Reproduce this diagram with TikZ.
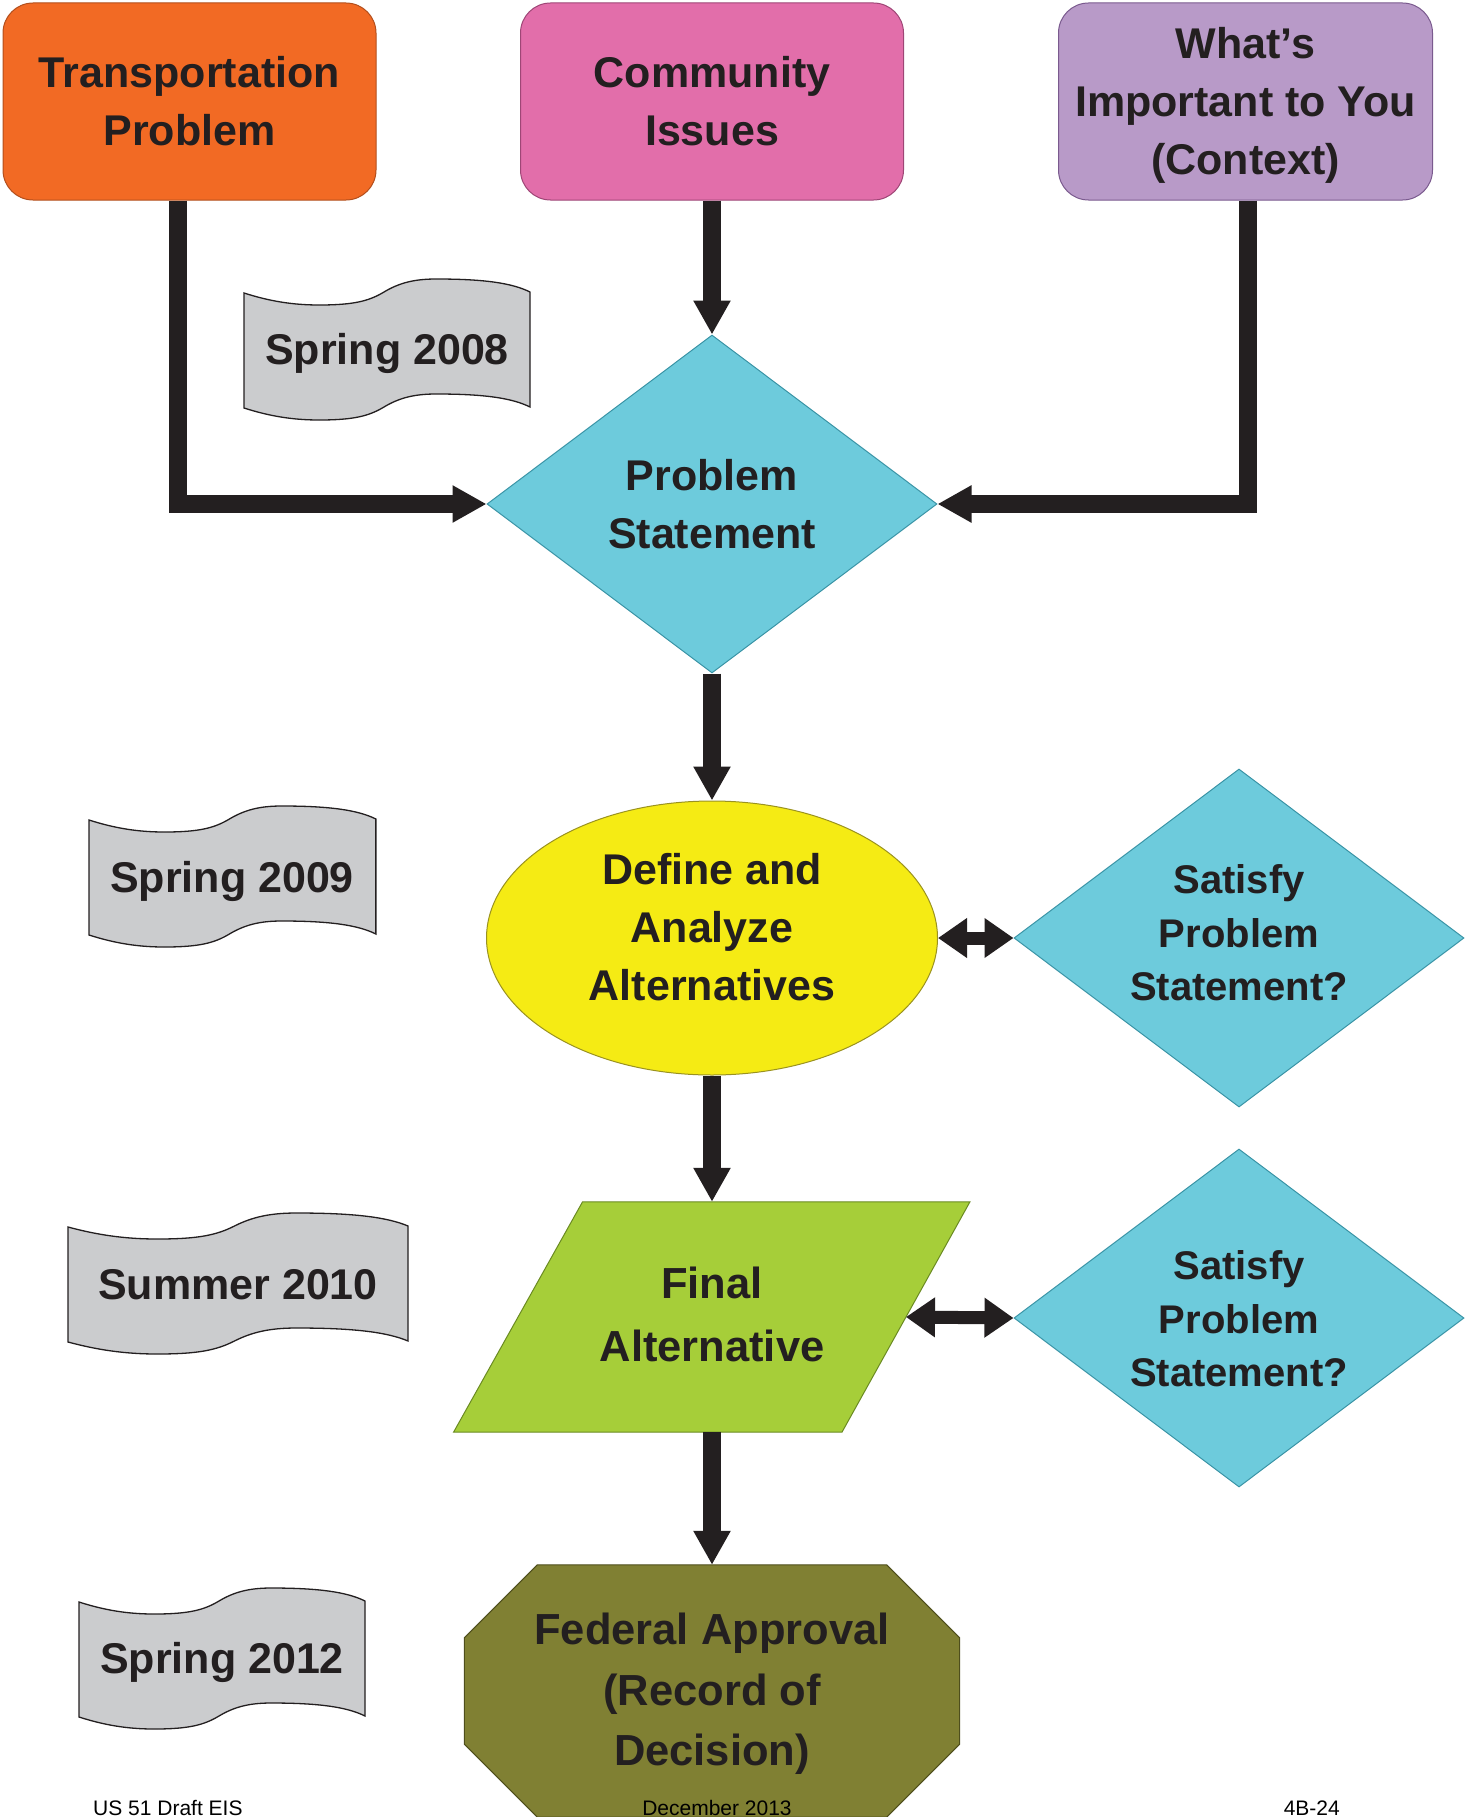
\documentclass[tikz,border=0pt]{standalone}
\usepackage{fontspec}
\setmainfont{Liberation Sans}
\usetikzlibrary{arrows.meta,shapes.geometric,calc}
\definecolor{ink}{HTML}{231F20}
\definecolor{orangeF}{HTML}{F26A24}
\definecolor{orangeD}{HTML}{B24E1C}
\definecolor{pinkF}{HTML}{E26EAA}
\definecolor{pinkD}{HTML}{9E4676}
\definecolor{purpF}{HTML}{B89AC8}
\definecolor{purpD}{HTML}{7A5A8E}
\definecolor{cyanF}{HTML}{6DCBDC}
\definecolor{cyanD}{HTML}{3A94A6}
\definecolor{yelF}{HTML}{F5EB14}
\definecolor{yelD}{HTML}{9A9220}
\definecolor{grnF}{HTML}{A6CE39}
\definecolor{grnD}{HTML}{6A8A22}
\definecolor{oliveF}{HTML}{808033}
\definecolor{oliveD}{HTML}{4E4E1C}
\definecolor{greyF}{HTML}{CBCCCE}
\newcommand\StA{\rule[-12pt]{0pt}{54.8pt}}
\newcommand\StB{\rule[-11pt]{0pt}{50.6pt}}
\newcommand\bannershape[3]{%
  \begin{scope}[shift={(#1,#2)},xscale=#3]
    \draw[banner] (0,14) .. controls (25,22) and (48,26) .. (75,26)
      .. controls (110,26) and (125,22) .. (140,13)
      .. controls (155,4) and (170,0) .. (192,0)
      .. controls (240,0) and (268,4) .. (286,13)
      -- (286,128)
      .. controls (268,119) and (240,115) .. (192,115)
      .. controls (170,115) and (155,119) .. (140,128)
      .. controls (125,137) and (110,141) .. (75,141)
      .. controls (48,141) and (25,137) .. (0,129) -- cycle;
  \end{scope}}
\tikzset{
  lab/.style={font=\bfseries\fontsize{43}{58}\selectfont, text=ink, align=center, inner sep=0pt},
  labS/.style={font=\bfseries\fontsize{40}{53.5}\selectfont, text=ink, align=center, inner sep=0pt},
  rbox/.style={lab, rectangle, rounded corners=30pt, minimum height=197pt, line width=1pt},
  dia/.style={diamond, fill=cyanF, draw=cyanD, line width=1pt, minimum width=450pt, minimum height=338pt, inner sep=0pt},
  hold/.style={rectangle, inner sep=0pt},
  arr/.style={draw=ink, line width=18pt, -{Triangle[length=34pt,width=35pt]}},
  dbl/.style={draw=ink, line width=13pt, {Triangle[length=29pt,width=38pt]}-{Triangle[length=29pt,width=38pt]}},
  banner/.style={fill=greyF, draw=ink, line width=1.3pt},
  btxt/.style={font=\bfseries\fontsize{43}{58}\selectfont, text=ink, inner sep=0pt},
  foot/.style={font=\fontsize{21}{25}\selectfont, text=black, inner sep=0pt},
}
\begin{document}
\begin{tikzpicture}[x=1pt,y=-1pt]
\useasboundingbox (0,0) rectangle (1464,1817);

% top boxes
\node[rbox, fill=orangeF, draw=orangeD, minimum width=373pt] (tp) at (189.5,101.5) {\StA Transportation\\\StA Problem};
\node[rbox, fill=pinkF, draw=pinkD, minimum width=383pt] (ci) at (712,101.5) {\StA Community\\\StA Issues};
\node[rbox, fill=purpF, draw=purpD, minimum width=374pt] (wi) at (1245.5,101.5) {\StA What’s\\\StA Important to You\\\StA (Context)};

% problem statement
\node[dia] (ps) at (712,504) {};
\node[lab] (psT) at (712,504) {\StA Problem\\\StA Statement};

% define and analyze
\node[ellipse, fill=yelF, draw=yelD, line width=1pt, minimum width=451pt, minimum height=274pt, inner sep=0pt] (ell) at (712,938) {};
\node[lab] (ellT) at (712,927) {\StA Define and\\\StA Analyze\\\StA Alternatives};

% satisfy diamonds
\node[dia] (s1) at (1239,938) {};
\node[labS] (s1T) at (1239,933) {\StB Satisfy\\\StB Problem\\\StB Statement?};
\node[dia] (s2) at (1239,1318) {};
\node[labS] (s2T) at (1239,1319) {\StB Satisfy\\\StB Problem\\\StB Statement?};

% final alternative (parallelogram)
\node[hold, minimum width=387.5pt, minimum height=230pt] (fa) at (712,1317) {};
\filldraw[fill=grnF, draw=grnD, line width=1pt] ([xshift=64.5pt]fa.north west) -- ([xshift=64pt]fa.north east) -- ([xshift=-64pt]fa.south east) -- ([xshift=-64.5pt]fa.south west) -- cycle;
\node[lab, font=\bfseries\fontsize{43.5}{63}\selectfont] (faT) at (712,1315) {\StA Final\\\StA Alternative};

% federal approval (octagon)
\node[hold, minimum width=495pt, minimum height=252pt] (fed) at (712,1691) {};
\filldraw[fill=oliveF, draw=oliveD, line width=1pt] ([xshift=73pt]fed.north west) -- ([xshift=-73pt]fed.north east) -- ([yshift=-73pt]fed.north east) -- ([yshift=73pt]fed.south east) -- ([xshift=-73pt]fed.south east) -- ([xshift=73pt]fed.south west) -- ([yshift=73pt]fed.south west) -- ([yshift=-73pt]fed.north west) -- cycle;
\node[lab, font=\bfseries\fontsize{43.5}{60.5}\selectfont] (fedT) at (712,1690) {\StA Federal Approval\\\StA (Record of\\\StA Decision)};

% banners
\bannershape{244}{279}{1}
\node[btxt] (b1) at (387,349.5) {\StA Spring 2008};
\bannershape{89}{806}{1.003}
\node[btxt] (b2) at (232,877) {\StA Spring 2009};
\bannershape{68}{1213}{1.189}
\node[btxt] (b3) at (238,1284) {\StA Summer 2010};
\bannershape{79}{1588}{1}
\node[btxt] (b4) at (222,1658.5) {\StA Spring 2012};

% connectors
\draw[arr] ([xshift=-11.5pt]tp.south) |- (ps.west);
\draw[arr] (ci.south) -- (ps.north);
\draw[arr] ([xshift=2pt]wi.south) |- (ps.east);
\draw[arr] (ps.south) -- (ell.north);
\draw[arr] (ell.south) -- (fa.north);
\draw[arr] (fa.south) -- (fed.north);
\draw[dbl] (ell.east) -- (s1.west);
\draw[dbl] (fa.east) -- (s2.west);

% footer
\node[foot, anchor=base west] (f1) at (93,1815) {US 51 Draft EIS};
\node[foot, anchor=base] (f2) at (717,1815) {December 2013};
\node[foot, anchor=base east] (f3) at (1340,1815) {4B-24};
\end{tikzpicture}
\end{document}
